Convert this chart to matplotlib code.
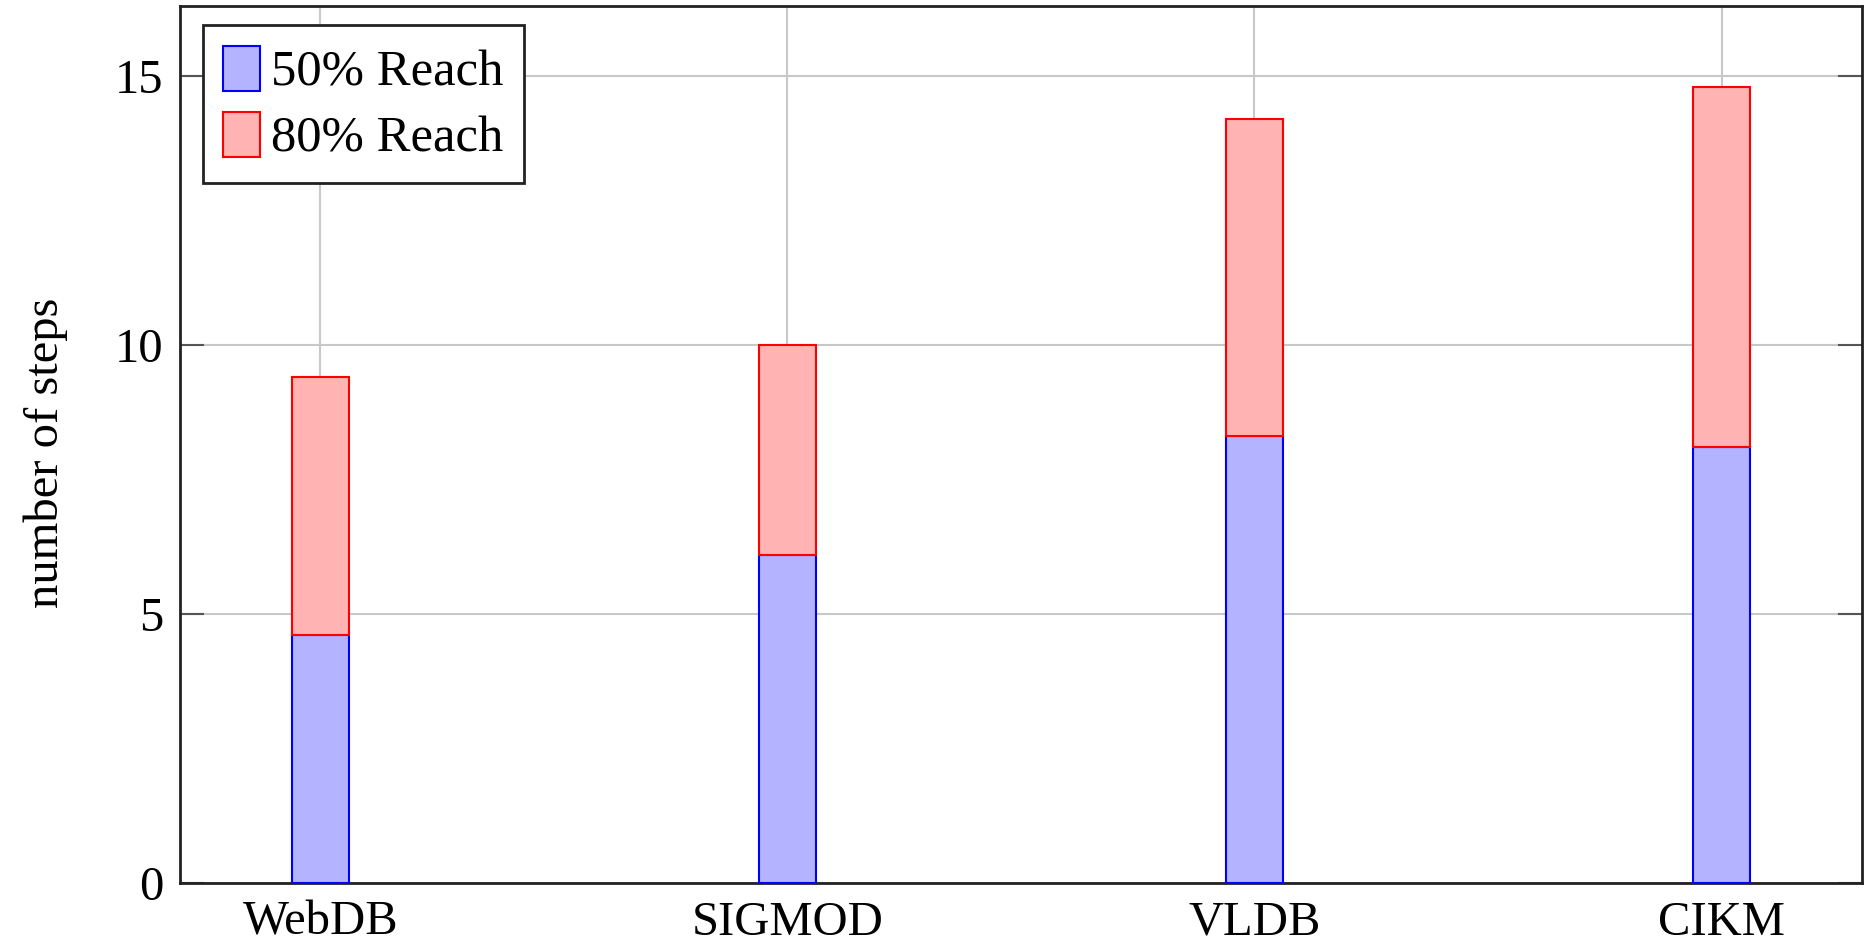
import matplotlib
matplotlib.use("Agg")
import matplotlib.pyplot as plt
import numpy as np

categories = ["WebDB", "SIGMOD", "VLDB", "CIKM"]
reach50 = [4.6, 6.1, 8.3, 8.1]
reach80 = [9.4, 10.0, 14.2, 14.8]
series_labels = ["50% Reach", "80% Reach"]
yticks = [0, 5, 10, 15]

plt.rcParams['font.family'] = ['Liberation Serif', 'DejaVu Serif']
FS = 35

fig = plt.figure(figsize=(18.72, 9.41), dpi=100)
ax = fig.add_axes([0.0962, 0.062, 0.9945 - 0.0962, 0.9936 - 0.062])

x = np.arange(len(categories))
w = 0.122
b50 = np.array(reach50)
b80 = np.array(reach80)
ax.bar(x, b50, width=w, color='#b3b3ff', edgecolor='#0000ff', linewidth=1.5,
       label=series_labels[0], zorder=3)
ax.bar(x, b80 - b50, bottom=b50, width=w, color='#ffb3b3', edgecolor='#ff0000',
       linewidth=1.5, label=series_labels[1], zorder=3)

ax.set_xlim(-0.3, 3.3)
ax.set_ylim(0, 16.3)
ax.set_xticks(x)
ax.set_xticklabels(categories, fontsize=FS)
ax.set_yticks(yticks)
ax.set_yticklabels([str(v) for v in yticks], fontsize=FS)
ax.grid(True, color='#c8c8c8', linewidth=1.5, zorder=0)
ax.set_axisbelow(True)
ax.tick_params(axis='y', direction='in', length=17, width=1.5, color='#555555',
               left=True, right=True, pad=12)
ax.tick_params(axis='x', direction='in', length=0, pad=13)
for s in ax.spines.values():
    s.set_linewidth(2)
    s.set_color('#222222')
ax.set_ylabel("number of steps", fontsize=FS)
ax.yaxis.set_label_coords(-0.0666, 0.4907)

leg = ax.legend(loc='upper left', bbox_to_anchor=(0.0137, 0.978), borderaxespad=0,
                fontsize=36.5, frameon=True, fancybox=False, handlelength=0.72,
                handleheight=1.0, handletextpad=0.22, labelspacing=0.3,
                borderpad=0.4)
leg.get_frame().set_edgecolor('#222222')
leg.get_frame().set_linewidth(2)
leg.get_frame().set_alpha(1)

fig.savefig("out.png", dpi=100)
